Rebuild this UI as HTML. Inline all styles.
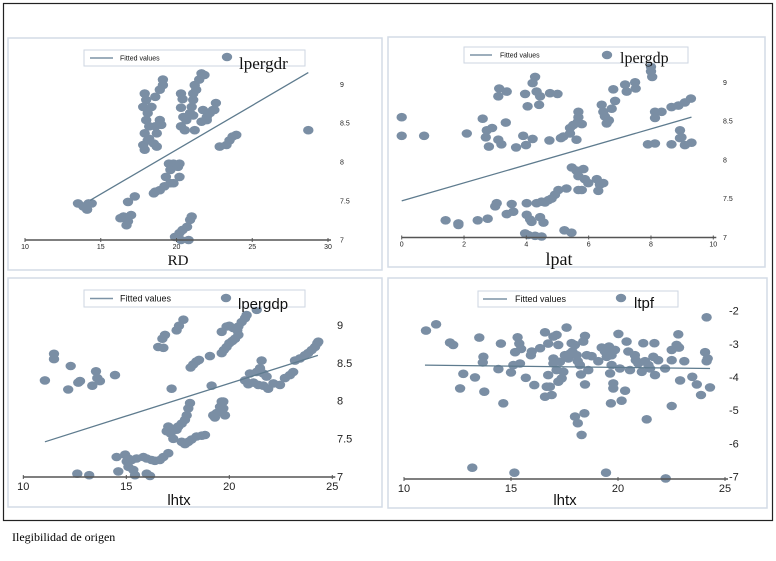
<!DOCTYPE html>
<html><head><meta charset="utf-8">
<style>
body{margin:0;background:#fff;width:776px;height:561px;overflow:hidden}
svg{display:block}
.cap{position:absolute;left:12px;top:530px;font:12px "Liberation Serif",serif;color:#000}
</style></head>
<body>
<svg id="chart" width="776" height="561" xmlns="http://www.w3.org/2000/svg">
<rect x="3.5" y="3.5" width="769" height="517" fill="none" stroke="#222" stroke-width="1.2"/>
</svg>
<div class="cap">Ilegibilidad de origen</div>
<script>
// ---- Panel 1: lpergdp vs RD ----
const p1X=[13.5,13.85,14.2,14.1,14.4,16.5,16.8,17.0,16.7,16.3,16.8,17.25,18.6,18.9,19.2,19.6,18.5,19.3,19.6,19.8,20.1,20.2,19.8,19.5,20.2,19.9,20.2,20.4,20.7,20.9,21.0,20.8,20.3,17.9,18.0,17.8,18.1,18.0,18.2,17.9,18.1,17.8,18.5,18.7,18.6,18.9,19.0,18.6,18.9,19.1,19.1,18.35,18.7,18.2,17.9,20.3,20.4,20.3,20.45,20.65,20.3,20.55,21.2,20.9,21.0,21.1,21.1,21.2,21.3,21.5,21.65,21.85,21.75,22.0,22.2,22.4,22.6,22.5,22.0,21.65,21.1,22.85,23.3,23.5,23.7,23.95,28.7];
const p1Y=[7.47,7.43,7.47,7.39,7.47,7.3,7.24,7.32,7.19,7.28,7.49,7.56,7.62,7.64,7.69,7.73,7.6,7.81,7.9,7.98,7.94,7.81,7.73,7.98,7.98,7.04,7.09,7.13,7.17,7.26,7.3,7.0,7.0,8.88,8.8,8.71,8.63,8.54,8.46,8.37,8.28,8.22,8.24,8.37,8.46,8.54,8.48,8.84,8.93,8.99,9.06,8.71,8.2,8.3,8.16,8.88,8.81,8.7,8.58,8.54,8.46,8.41,8.41,8.63,8.71,8.8,8.88,8.99,8.93,9.06,9.14,9.12,8.67,8.58,8.63,8.67,8.76,8.67,8.54,8.52,8.6,8.2,8.22,8.28,8.33,8.35,8.41];
const p1Fit=[[14.3,7.51],[28.7,9.15]];
const p1XTicks=[10,15,20,25,30];
const p1YTicks=[7,7.5,8,8.5,9];
// ---- Panel 2: lpergdp vs lpat ----
const p2X=[0,0,0.72,2.09,2.6,2.73,2.9,2.7,2.8,3.1,3.2,3.34,3.67,3.99,3.9,4.2,4.74,5.11,5.19,3.13,3.37,3.1,3.96,4.04,4.28,4.2,4.33,4.44,4.41,4.76,5.0,5.4,5.51,5.65,5.67,5.67,5.78,5.61,5.4,6.42,6.47,6.52,6.58,6.65,6.74,6.85,6.79,7.17,7.22,7.49,7.51,8.0,8.04,8.0,8.13,8.13,8.34,8.66,8.88,9.09,9.28,7.9,8.13,8.66,8.93,8.98,9.09,9.3,8.93,5.46,5.61,5.83,5.67,5.88,5.99,6.26,6.36,6.31,6.47,5.67,5.78,5.29,5.03,4.92,4.81,4.71,4.6,4.49,4.33,4.01,3.05,3.0,3.53,3.58,3.37,4.01,4.12,4.44,4.55,4.17,1.41,1.82,1.82,2.44,2.76,3.96,4.06,4.28,4.49,5.22,5.45];
const p2Y=[8.55,8.31,8.31,8.34,8.53,8.38,8.41,8.29,8.17,8.26,8.2,8.48,8.16,8.19,8.31,8.27,8.25,8.28,8.3,8.92,8.88,8.82,8.85,8.69,9.07,8.99,8.88,8.82,8.71,8.86,8.85,8.41,8.45,8.49,8.55,8.62,8.46,8.26,8.34,8.71,8.62,8.56,8.47,8.51,8.66,8.76,8.91,8.97,8.88,9.0,8.92,9.2,9.07,9.14,8.62,8.54,8.62,8.68,8.7,8.74,8.79,8.2,8.21,8.2,8.38,8.29,8.19,8.22,8.28,7.9,7.86,7.88,7.79,7.75,7.7,7.75,7.68,7.6,7.7,7.61,7.61,7.63,7.61,7.55,7.5,7.48,7.45,7.46,7.44,7.44,7.44,7.4,7.43,7.33,7.3,7.29,7.23,7.26,7.19,7.2,7.22,7.16,7.18,7.22,7.24,7.05,7.03,7.02,7.01,7.09,7.06];
const p2Fit=[[0,7.47],[9.3,8.55]];
const p2XTicks=[0,2,4,6,8,10];
const p2YTicks=[7,7.5,8,8.5,9];
// ---- Panel 3: lpergdp vs lhtx ----
const p3X=[11.05,11.49,11.49,12.3,12.18,12.75,12.67,13.53,13.59,13.72,13.35,14.45,17.2,16.55,16.8,16.75,16.88,17.44,17.56,17.77,18.12,18.25,18.41,18.53,19.06,19.14,19.63,19.74,19.87,20.0,20.15,20.28,20.44,19.63,19.87,20.0,20.19,20.39,20.44,20.6,20.76,20.84,21.33,20.76,20.92,21.0,21.17,21.33,21.49,21.57,21.41,21.65,21.89,22.14,22.46,22.7,22.94,23.1,23.19,23.43,23.67,23.83,24.0,24.16,24.27,24.32,21.65,21.81,18.09,18.01,17.93,17.85,17.69,17.52,17.28,17.04,16.96,17.15,17.44,17.28,17.69,17.85,18.01,18.17,18.41,18.66,18.82,19.22,19.3,19.39,19.55,19.63,19.71,19.71,19.79,17.04,16.8,16.63,16.39,16.23,15.99,15.83,15.5,15.26,15.02,15.1,15.34,15.42,14.53,14.94,15.1,14.61,15.99,16.15,12.62,13.2];
const p3Y=[8.27,8.62,8.55,8.46,8.15,8.26,8.24,8.39,8.3,8.26,8.2,8.34,8.16,8.71,8.7,8.82,8.87,8.93,8.99,9.07,8.44,8.48,8.52,8.54,8.59,8.2,8.63,8.67,8.71,8.76,8.79,8.82,8.87,8.91,8.98,8.99,8.96,8.93,8.98,9.04,9.09,9.13,9.2,8.27,8.22,8.36,8.24,8.38,8.43,8.53,8.21,8.2,8.16,8.23,8.21,8.3,8.34,8.38,8.53,8.56,8.6,8.63,8.67,8.71,8.76,8.78,8.36,8.32,7.97,7.9,7.81,7.75,7.7,7.66,7.63,7.66,7.6,7.57,7.62,7.5,7.46,7.43,7.46,7.49,7.53,7.54,7.55,7.81,7.78,7.84,7.92,7.99,7.99,7.9,7.81,7.31,7.26,7.22,7.21,7.22,7.24,7.26,7.24,7.22,7.2,7.13,7.09,7.02,7.26,7.29,7.24,7.07,7.04,7.01,7.04,7.02];
const p3Fit=[[11.05,7.46],[24.3,8.6]];
const p3XTicks=[10,15,20,25];
const p3YTicks=[7,7.5,8,8.5,9];
// ---- Panel 4: ltpf vs lhtx ----
const p4X=[11.03,11.5,12.15,12.3,12.77,13.32,12.62,13.52,13.71,13.68,13.75,14.41,14.53,14.64,15.0,15.11,15.31,15.39,15.47,15.19,15.42,15.69,15.93,15.97,16.09,16.36,16.59,16.74,16.98,17.13,17.21,16.98,16.74,16.67,16.82,16.59,16.9,16.98,17.13,17.21,17.37,17.45,17.29,17.52,17.6,17.68,17.76,17.83,17.87,17.99,18.07,18.12,18.22,18.27,18.46,18.38,18.54,18.61,18.46,18.77,19.08,19.24,19.39,19.47,19.58,19.63,19.7,19.7,19.63,19.86,19.78,19.78,19.67,20.02,20.09,20.17,20.33,20.4,20.48,20.56,20.79,20.83,20.95,21.11,21.18,21.26,21.42,21.5,21.7,21.65,21.73,21.88,22.2,22.51,22.51,22.74,22.82,22.85,22.9,23.1,23.47,23.68,23.88,24.07,24.14,24.19,24.3,24.14,17.99,18.12,18.3,18.43,22.51,21.34,13.19,15.16,19.44,22.23];
const p4Y=[-2.6,-2.41,-2.96,-3.03,-3.9,-4.01,-4.34,-2.81,-3.39,-3.56,-4.44,-3.76,-2.99,-4.79,-3.86,-3.64,-2.8,-2.99,-3.15,-3.25,-3.59,-4.02,-3.34,-3.23,-4.24,-3.13,-2.65,-2.99,-2.78,-2.73,-3.03,-3.44,-3.94,-4.29,-4.29,-4.59,-4.54,-3.59,-3.79,-4.14,-4.04,-3.84,-3.54,-3.34,-2.51,-3.44,-3.29,-2.98,-3.23,-3.03,-3.34,-3.52,-3.64,-3.92,-2.76,-2.93,-3.34,-3.79,-4.22,-3.37,-3.52,-3.11,-3.23,-3.39,-3.08,-3.21,-3.34,-3.64,-3.89,-3.18,-4.19,-4.34,-4.79,-2.7,-3.74,-4.71,-4.41,-2.93,-3.23,-3.79,-3.34,-3.49,-3.59,-3.84,-2.98,-3.52,-3.64,-3.74,-2.98,-3.39,-3.94,-3.49,-3.74,-3.49,-3.18,-3.03,-2.71,-3.11,-4.1,-3.52,-3.99,-4.22,-4.54,-3.25,-3.52,-3.44,-4.31,-2.2,-5.19,-5.39,-5.74,-5.09,-4.87,-5.27,-6.73,-6.88,-6.88,-7.05];
const p4Fit=[[10.98,-3.64],[24.3,-3.74]];
const p4XTicks=[10,15,20,25];
const p4YTicks=[-7,-6,-5,-4,-3,-2];

const NS='http://www.w3.org/2000/svg';
const svg=document.getElementById('chart');
function mk(tag,attrs,parent,text){const e=document.createElementNS(NS,tag);for(const k in attrs)e.setAttribute(k,attrs[k]);if(text!==undefined)e.textContent=text;(parent||svg).appendChild(e);return e;}

function panel(cfg,xs,ys,fit,xt,yt){
  const g=mk('g',{});
  
  
  const fr=mk('rect',{x:cfg.box[0],y:cfg.box[1],width:cfg.box[2],height:cfg.box[3],fill:'#fff',stroke:'#d3dbe6','stroke-width':1.5},g);
  
  
  const sx=v=>cfg.x0+(v-cfg.xmin)*(cfg.x1-cfg.x0)/(cfg.xmax-cfg.xmin);
  const sy=v=>cfg.y0-(v-cfg.ymin)*(cfg.y0-cfg.y1)/(cfg.ymax-cfg.ymin);
  // points
  for(let i=0;i<xs.length;i++){
    const c=mk('ellipse',{cx:sx(xs[i]).toFixed(1),cy:sy(ys[i]).toFixed(1),rx:5.2,ry:4.3,fill:'#7a8ea4'},g);
    
    
  }
  // fitted line
  const fl=mk('line',{x1:sx(fit[0][0]),y1:sy(fit[0][1]),x2:sx(fit[1][0]),y2:sy(fit[1][1]),stroke:'#5e7b8e','stroke-width':1.3},g);
  
  
  // x axis
  const ax=mk('line',{x1:cfg.x0,y1:cfg.axisY,x2:cfg.x1+3,y2:cfg.axisY,stroke:'#555','stroke-width':1.6},g);
  
  
  xt.forEach(t=>{
    mk('line',{x1:sx(t),y1:cfg.axisY-2,x2:sx(t),y2:cfg.axisY+2,stroke:'#555','stroke-width':1},g);
    const tx=mk('text',{x:sx(t),y:cfg.axisY+cfg.tfs+2,'text-anchor':'middle','font-size':cfg.tfs,'font-family':'Liberation Sans, sans-serif',fill:'#222'},g,String(t));
    
    
  });
  yt.forEach(t=>{
    const ty=mk('text',{x:cfg.ytx,y:sy(t)+cfg.tfs*0.35,'font-size':cfg.tfs,'font-family':'Liberation Sans, sans-serif',fill:'#222'},g,String(t));
    
    
  });
  // x title
  const xl=mk('text',{x:cfg.xl[0],y:cfg.xl[1],'text-anchor':'middle','font-size':cfg.xlfs,'font-family':cfg.font,fill:'#111'},g,cfg.xlabel);
  
  
  // legend
  const L=cfg.leg;
  const lg=mk('g',{},g);
  
  
  mk('rect',{x:L.x,y:L.y,width:L.w,height:L.h,fill:'#fff',stroke:'#cdd6e2','stroke-width':1},lg);
  mk('line',{x1:L.lx,y1:L.y+L.h/2,x2:L.lx+L.ll,y2:L.y+L.h/2,stroke:'#7d93a6','stroke-width':1.5},lg);
  const lt=mk('text',{x:L.tx,y:L.y+L.h/2+L.fs*0.35,'font-size':L.fs,'font-family':'Liberation Sans, sans-serif',fill:'#111'},lg,'Fitted values');
  
  
  mk('ellipse',{cx:L.mx,cy:L.my,rx:5.2,ry:4.3,fill:'#7a8ea4'},lg);
  const ln=mk('text',{x:L.nx,y:L.ny,'font-size':L.nfs,'font-family':cfg.font,fill:'#111'},lg,cfg.yname);
  
  
}

const serif='Liberation Serif, serif', sans='Liberation Sans, sans-serif';
panel({name:'panel-rd',box:[8,38,374,232],xmin:10,xmax:30,x0:25,x1:328,ymin:7,ymax:9,y0:240,y1:84.3,axisY:240,tfs:7,ytx:340,
  xl:[178,265],xlfs:15,font:serif,xlabel:'RD',yname:'lpergdr',
  leg:{x:84,y:50,w:221,h:16,lx:90,ll:23,tx:120,fs:7,mx:227,my:57,nx:239,ny:69,nfs:17}},p1X,p1Y,p1Fit,p1XTicks,p1YTicks);
panel({name:'panel-lpat',box:[388,37,377,230],xmin:0,xmax:10,x0:401.7,x1:713.3,ymin:7,ymax:9,y0:237.3,y1:82.3,axisY:237.5,tfs:7,ytx:723,
  xl:[559,265],xlfs:18,font:serif,xlabel:'lpat',yname:'lpergdp',
  leg:{x:464,y:47,w:224,h:16,lx:470,ll:22,tx:500,fs:7,mx:607,my:55,nx:620,ny:63,nfs:16}},p2X,p2Y,p2Fit,p2XTicks,p2YTicks);
panel({name:'panel-lhtx-lpergdp',box:[8,278,374,229],xmin:10,xmax:25,x0:23.3,x1:332.3,ymin:7,ymax:9,y0:476.7,y1:325,axisY:477,tfs:11,ytx:337,
  xl:[179,505],xlfs:15,font:sans,xlabel:'lhtx',yname:'lpergdp',
  leg:{x:84,y:290,w:221,h:17,lx:90,ll:23,tx:120,fs:9,mx:226,my:298,nx:238,ny:309,nfs:15}},p3X,p3Y,p3Fit,p3XTicks,p3YTicks);
panel({name:'panel-lhtx-ltpf',box:[388,278,379,230],xmin:10,xmax:25,x0:404,x1:725,ymin:-7,ymax:-2,y0:476.7,y1:310.7,axisY:479,tfs:11,ytx:729,
  xl:[565,505],xlfs:15,font:sans,xlabel:'lhtx',yname:'ltpf',
  leg:{x:478,y:291,w:200,h:16,lx:483,ll:24,tx:515,fs:9,mx:621,my:298,nx:634,ny:308,nfs:15}},p4X,p4Y,p4Fit,p4XTicks,p4YTicks);
</script>
</body></html>
